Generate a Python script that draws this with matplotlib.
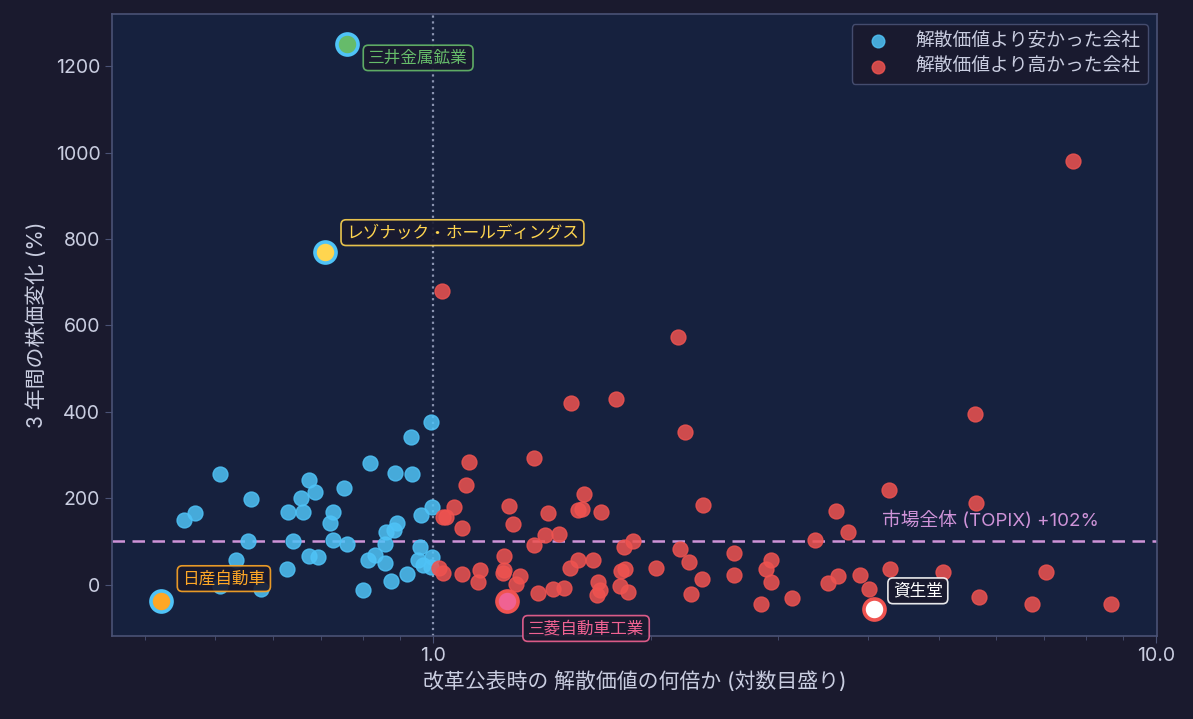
import numpy as np
import matplotlib
matplotlib.use("Agg")
import matplotlib.pyplot as plt
from matplotlib.ticker import FixedLocator, FormatStrFormatter, NullFormatter, LogLocator

plt.rcParams['font.family'] = ['Inter', 'Noto Sans CJK JP', 'DejaVu Sans']

# 解散価値より安かった会社 (倍率, 3年間の株価変化 %)
cheap_x = [0.507, 0.452, 0.468, 0.561, 0.555, 0.534, 0.507, 0.579, 0.630, 0.662,
           0.656, 0.673, 0.687, 0.641, 0.629, 0.673, 0.693, 0.728, 0.721, 0.754,
           0.727, 0.760, 0.817, 0.801, 0.812, 0.830, 0.859, 0.857, 0.861, 0.884,
           0.892, 0.887, 0.875, 0.921, 0.932, 0.935, 0.962, 0.960, 0.954, 0.968,
           0.994, 0.998, 0.997, 0.994]
cheap_y = [256, 150, 166, 199, 102, 56, -4, -10, 168, 168,
           201, 242, 214, 102, 36, 66, 64, 168, 143, 224,
           104, 95, 282, -12, 58, 69, 50, 93, 123, 127,
           143, 259, 8, 25, 342, 257, 162, 86, 58, 45,
           377, 180, 64, 41]

# 解散価値より高かった会社
rich_x = [1.028, 2.178, 1.551, 1.790, 2.231, 1.122, 1.112, 1.380, 1.272, 1.291,
          1.068, 1.031, 1.042, 1.097, 1.440, 1.615, 1.585, 1.606, 1.706, 2.362,
          1.494, 1.428, 1.380, 1.893, 1.837, 3.373, 2.194, 2.259, 2.358, 2.272,
          2.032, 2.608, 2.608, 2.930, 2.884, 2.930, 2.838, 3.132, 1.254, 1.252,
          1.248, 1.320, 1.302, 1.161, 1.155, 1.095, 1.031, 1.020, 1.546, 1.589,
          1.665, 1.398, 1.463, 1.515, 1.689, 1.703, 1.685, 1.818, 1.842, 1.814,
          1.861, 7.66, 5.61, 4.27, 5.63, 3.61, 3.75, 4.28, 5.07, 7.04,
          3.89, 3.63, 3.52, 4.01, 5.68, 6.73, 8.67]
rich_y = [679, 574, 421, 429, 354, 284, 230, 293, 181, 141,
          180, 156, 156, 132, 166, 211, 172, 174, 168, 185,
          118, 114, 91, 100, 87, 104, 83, 53, 14, -22,
          39, 73, 23, 58, 36, 6, -44, -31, 66, 33,
          27, 21, 2, 35, 6, 25, 27, 39, 39, 56,
          56, -19, -10, -8, 5, -12, -23, 31, 37, -4,
          -18, 981, 394, 220, 189, 170, 123, 36, 29, 29,
          23, 19, 4, -10, -29, -46, -46]

# 注目企業
hl_names = ['三井金属鉱業', 'レゾナック・ホールディングス', '日産自動車', '三菱自動車工業', '資生堂']
hl_x = [0.761, 0.709, 0.421, 1.265, 4.07]
hl_y = [1252, 771, -37, -39, -56]
hl_face = ['#66bb6a', '#ffd54f', '#ffa726', '#f06292', '#ffffff']
hl_edge = ['#4fc3f7', '#4fc3f7', '#4fc3f7', '#ef5350', '#ef5350']
hl_offset = [(21, -14), (21, 19), (21, 22), (21, -27), (19, 18)]

topix = 102

BG = '#1a1a2e'
AX_BG = '#16213e'
BLUE = '#4fc3f7'
RED = '#ef5350'
TXT = '#c9cde0'
SPINE = '#4a5275'

fig = plt.figure(figsize=(11.93, 7.19), dpi=100, facecolor=BG)
ax = fig.add_axes([0.094, 0.116, 0.876, 0.865])
ax.set_facecolor(AX_BG)

ax.scatter(cheap_x, cheap_y, s=115, color=BLUE, alpha=0.85, edgecolors=BLUE,
           linewidths=1, label='解散価値より安かった会社', zorder=3)
ax.scatter(rich_x, rich_y, s=115, color=RED, alpha=0.85, edgecolors=RED,
           linewidths=1, label='解散価値より高かった会社', zorder=3)

ax.axvline(1.0, color='#8a93b0', linestyle=':', linewidth=1.6, zorder=2)
ax.axhline(topix, color='#ce93d8', linestyle='--', linewidth=1.8, dashes=(5, 3), zorder=2)
ax.text(4.18, 148, '市場全体 (TOPIX) +102%', color='#ce93d8', fontsize=13.5,
        ha='left', va='center', zorder=4)

for name, x, y, fc, ec, off in zip(hl_names, hl_x, hl_y, hl_face, hl_edge, hl_offset):
    ax.scatter([x], [y], s=230, color=fc, edgecolors=ec, linewidths=2.6, zorder=5)
    ax.annotate(name, (x, y), xytext=off, textcoords='offset pixels',
                ha='left', va='center', fontsize=12, color=fc, zorder=6,
                bbox=dict(boxstyle='round,pad=0.3', facecolor=BG, edgecolor=fc,
                          linewidth=1.2, alpha=0.9))

ax.set_xscale('log')
ax.set_xlim(0.36, 10.03)
ax.set_ylim(-118, 1322)
ax.xaxis.set_major_locator(FixedLocator([1.0, 10.0]))
ax.xaxis.set_major_formatter(FormatStrFormatter('%.1f'))
ax.xaxis.set_minor_locator(LogLocator(base=10, subs=np.arange(2, 10), numticks=10))
ax.xaxis.set_minor_formatter(NullFormatter())
ax.set_yticks([0, 200, 400, 600, 800, 1000, 1200])

ax.tick_params(axis='both', which='major', colors=SPINE, labelcolor=TXT, labelsize=14, length=5)
ax.tick_params(axis='x', which='minor', colors=SPINE, length=3)
for sp in ax.spines.values():
    sp.set_color(SPINE)
    sp.set_linewidth(1.2)

ax.set_xlabel('改革公表時の 解散価値の何倍か (対数目盛り)', color=TXT, fontsize=15, labelpad=4)
ax.set_ylabel('3 年間の株価変化 (%)', color=TXT, fontsize=15, labelpad=6)

leg = ax.legend(loc='upper right', fontsize=13.5, facecolor=BG, edgecolor=SPINE,
                labelcolor=TXT, framealpha=0.9, borderpad=0.4, handletextpad=1.0,
                markerscale=0.85, bbox_to_anchor=(1.0, 0.998))

fig.savefig('out.png', dpi=100, facecolor=BG)
